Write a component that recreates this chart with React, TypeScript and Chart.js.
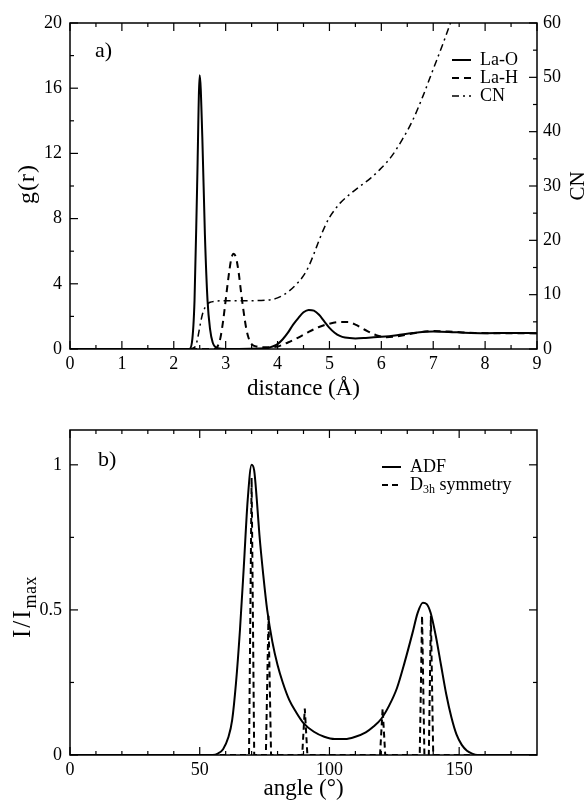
import React, { useEffect, useRef } from 'react';
import { Chart, registerables } from 'chart.js';

Chart.register(...registerables);

const FONT = '"Liberation Serif", "DejaVu Serif", "Times New Roman", serif';

// ---------- Panel a) radial distribution ----------
const DIST_TICKS = [0, 1, 2, 3, 4, 5, 6, 7, 8, 9];
const DIST_MINOR = [0.5, 1.5, 2.5, 3.5, 4.5, 5.5, 6.5, 7.5, 8.5];
const G_TICKS = [0, 4, 8, 12, 16, 20];
const G_MINOR = [2, 6, 10, 14, 18];
const CN_TICKS = [0, 10, 20, 30, 40, 50, 60];
const CN_MINOR = [5, 15, 25, 35, 45, 55];

const LAO_R = [0, 2.3, 2.35, 2.4, 2.45, 2.5, 2.55, 2.6, 2.65, 2.7, 2.75, 2.85, 3.0, 3.8, 3.9, 4.0, 4.1, 4.2, 4.3, 4.4, 4.5, 4.6, 4.7, 4.8, 4.9, 5.0, 5.1, 5.2, 5.3, 5.5, 5.7, 6.0, 6.3, 6.6, 7.0, 7.3, 7.6, 8.0, 8.5, 9.0];
const LAO_G = [0, 0, 0.4, 3.0, 10.0, 16.8, 13.0, 7.0, 3.0, 1.2, 0.4, 0.05, 0, 0.05, 0.15, 0.3, 0.6, 1.0, 1.5, 1.9, 2.25, 2.4, 2.35, 2.1, 1.7, 1.3, 1.0, 0.8, 0.7, 0.65, 0.68, 0.75, 0.85, 0.98, 1.07, 1.05, 1.0, 0.97, 0.98, 0.97];

const LAH_R = [0, 2.8, 2.85, 2.9, 2.95, 3.0, 3.05, 3.1, 3.15, 3.2, 3.25, 3.3, 3.35, 3.4, 3.45, 3.5, 3.6, 3.8, 4.0, 4.2, 4.4, 4.6, 4.8, 5.0, 5.2, 5.35, 5.5, 5.7, 5.9, 6.1, 6.3, 6.6, 7.0, 7.4, 7.8, 8.3, 9.0];
const LAH_G = [0, 0, 0.2, 0.7, 1.7, 3.0, 4.3, 5.4, 5.85, 5.6, 4.7, 3.4, 2.2, 1.2, 0.6, 0.3, 0.15, 0.1, 0.15, 0.4, 0.7, 1.05, 1.35, 1.55, 1.65, 1.65, 1.5, 1.15, 0.85, 0.72, 0.78, 0.95, 1.1, 1.05, 0.98, 0.97, 0.97];

const CN_R = [2.3, 2.4, 2.45, 2.5, 2.55, 2.6, 2.65, 2.7, 2.8, 3.0, 3.5, 3.8, 4.0, 4.2, 4.4, 4.5, 4.6, 4.7, 4.8, 4.9, 5.0, 5.1, 5.2, 5.5, 5.8, 6.0, 6.2, 6.4, 6.6, 6.8, 7.0, 7.2, 7.35, 7.5];
const CN_V = [0, 0.3, 1.5, 4.0, 6.3, 7.6, 8.3, 8.6, 8.8, 8.9, 8.9, 9.0, 9.4, 10.5, 12.3, 13.5, 15.2, 17.5, 20.0, 22.3, 24.2, 25.6, 26.8, 29.3, 31.5, 33.3, 35.5, 38.5, 42.0, 46.5, 51.5, 56.5, 60.5, 64.5];

// ---------- Panel b) angular distribution ----------
const ANG_TICKS = [0, 50, 100, 150];
const ANG_MINOR = [10, 20, 30, 40, 60, 70, 80, 90, 110, 120, 130, 140, 160, 170];
const I_TICKS = [0, 0.5, 1];
const I_MINOR = [0.25, 0.75];

const ADF_A = [0, 50, 55, 57, 59, 61, 62.5, 64, 65.5, 67, 68.5, 70, 71, 72, 73, 74.5, 76, 78, 80, 82, 84.5, 87, 90, 94, 98, 102, 106, 110, 114, 117, 120, 123, 126, 129, 132, 134, 136, 137.5, 139, 141, 143, 145, 147, 149, 151, 153, 155, 157, 160, 180];
const ADF_V = [0, 0, 0, 0.005, 0.02, 0.06, 0.12, 0.25, 0.43, 0.65, 0.88, 1.0, 0.98, 0.88, 0.76, 0.62, 0.5, 0.39, 0.31, 0.25, 0.19, 0.15, 0.11, 0.08, 0.063, 0.055, 0.055, 0.063, 0.078, 0.098, 0.125, 0.17, 0.23, 0.32, 0.42, 0.49, 0.525, 0.52, 0.49, 0.41, 0.31, 0.21, 0.13, 0.07, 0.035, 0.015, 0.005, 0, 0, 0];

const D3H_A = [0, 69, 70, 71, 75.5, 76.5, 77.5, 89.5, 90.5, 91.5, 119.5, 120.5, 121.5, 134.8, 135.7, 136.6, 138.3, 139.1, 140, 180];
const D3H_V = [0, 0, 0.955, 0, 0, 0.48, 0, 0, 0.16, 0, 0, 0.16, 0, 0, 0.48, 0, 0, 0.48, 0, 0];

const pts = (xs: number[], ys: number[]) => xs.map((x, i) => ({ x, y: ys[i] }));

type TickSpec = { axis: string; side: 'bottom' | 'top' | 'left' | 'right'; major: number[]; minor: number[] };
type Part = { t: string; size: number; dy: number; sp?: number };

function drawFrame(chart: any, specs: TickSpec[]) {
  const { ctx, chartArea: a } = chart;
  ctx.save();
  ctx.strokeStyle = '#000';
  ctx.setLineDash([]);
  ctx.lineWidth = 1.2;
  for (const s of specs) {
    const sc = chart.scales[s.axis];
    const draw = (v: number, len: number) => {
      const p = sc.getPixelForValue(v);
      ctx.beginPath();
      if (s.side === 'bottom') { ctx.moveTo(p, a.bottom); ctx.lineTo(p, a.bottom - len); }
      if (s.side === 'top') { ctx.moveTo(p, a.top); ctx.lineTo(p, a.top + len); }
      if (s.side === 'left') { ctx.moveTo(a.left, p); ctx.lineTo(a.left + len, p); }
      if (s.side === 'right') { ctx.moveTo(a.right, p); ctx.lineTo(a.right - len, p); }
      ctx.stroke();
    };
    s.major.forEach((v) => draw(v, 8));
    s.minor.forEach((v) => draw(v, 4));
  }
  ctx.lineWidth = 1.5;
  ctx.strokeRect(a.left, a.top, a.right - a.left, a.bottom - a.top);
  ctx.restore();
}

function partsWidth(ctx: CanvasRenderingContext2D, parts: Part[]) {
  let total = 0;
  for (const p of parts) {
    ctx.font = `${p.size}px ${FONT}`;
    for (const ch of p.t) total += ctx.measureText(ch).width + (p.sp || 0);
  }
  return total;
}

function drawParts(ctx: CanvasRenderingContext2D, parts: Part[], x0: number, y0: number) {
  let cx = x0;
  for (const p of parts) {
    ctx.font = `${p.size}px ${FONT}`;
    for (const ch of p.t) {
      ctx.fillText(ch, cx, y0 + p.dy);
      cx += ctx.measureText(ch).width + (p.sp || 0);
    }
  }
}

function rotText(ctx: CanvasRenderingContext2D, parts: Part[], x: number, cy: number) {
  ctx.save();
  ctx.translate(x, cy);
  ctx.rotate(-Math.PI / 2);
  ctx.fillStyle = '#000';
  ctx.textBaseline = 'alphabetic';
  ctx.textAlign = 'left';
  const total = partsWidth(ctx, parts);
  drawParts(ctx, parts, -total / 2, 0);
  ctx.restore();
}

function legendRow(ctx: CanvasRenderingContext2D, ds: any, x: number, y: number, len: number, textParts: Part[]) {
  ctx.save();
  ctx.strokeStyle = '#000';
  ctx.lineWidth = ds.borderWidth;
  ctx.setLineDash(ds.borderDash || []);
  ctx.beginPath();
  ctx.moveTo(x, y);
  ctx.lineTo(x + len, y);
  ctx.stroke();
  ctx.setLineDash([]);
  ctx.fillStyle = '#000';
  ctx.textBaseline = 'middle';
  ctx.textAlign = 'left';
  drawParts(ctx, textParts, x + len + 9, y);
  ctx.restore();
}

const tickFont = { family: FONT, size: 18 };

function fixedTicks(values: number[]) {
  return (scale: any) => {
    scale.ticks = values.map((v) => ({ value: v }));
  };
}

function axisBase(min: number, max: number, values: number[], padding: number) {
  return {
    type: 'linear' as const,
    min,
    max,
    afterBuildTicks: fixedTicks(values),
    grid: { display: false, drawTicks: false },
    border: { display: false },
    ticks: { font: tickFont, color: '#000', padding, autoSkip: false, maxRotation: 0, callback: (v: any) => String(v) },
  };
}

function topConfig(): any {
  const datasets = [
    { label: 'La-O', data: pts(LAO_R, LAO_G), yAxisID: 'y', borderColor: '#000', borderWidth: 2, borderDash: [] as number[] },
    { label: 'La-H', data: pts(LAH_R, LAH_G), yAxisID: 'y', borderColor: '#000', borderWidth: 2, borderDash: [7, 5] },
    { label: 'CN', data: pts(CN_R, CN_V), yAxisID: 'y2', borderColor: '#000', borderWidth: 1.5, borderDash: [7, 4, 2, 4] },
  ].map((d) => ({ ...d, pointRadius: 0, fill: false, cubicInterpolationMode: 'monotone' }));
  return {
    type: 'line',
    data: { datasets },
    options: {
      animation: false,
      responsive: true,
      maintainAspectRatio: false,
      layout: { padding: { top: 23, left: 0, right: 0, bottom: 0 } },
      plugins: { legend: { display: false }, tooltip: { enabled: false } },
      scales: {
        x: { ...axisBase(0, 9, DIST_TICKS, 4), position: 'bottom', afterFit: (s: any) => { s.height = 51; } },
        y: { ...axisBase(0, 20, G_TICKS, 8), position: 'left', afterFit: (s: any) => { s.width = 70; } },
        y2: { ...axisBase(0, 60, CN_TICKS, 6), position: 'right', afterFit: (s: any) => { s.width = 49; } },
      },
    },
    plugins: [
      {
        id: 'decorTop',
        afterDatasetsDraw(chart: any) {
          drawFrame(chart, [
            { axis: 'x', side: 'bottom', major: DIST_TICKS, minor: DIST_MINOR },
            { axis: 'x', side: 'top', major: DIST_TICKS, minor: DIST_MINOR },
            { axis: 'y', side: 'left', major: G_TICKS, minor: G_MINOR },
            { axis: 'y2', side: 'right', major: CN_TICKS, minor: CN_MINOR },
          ]);
          const { ctx, chartArea: a } = chart;
          const cy = (a.top + a.bottom) / 2;
          rotText(ctx, [{ t: 'g(r)', size: 24, dy: 0, sp: 1 }], 34, cy - 2);
          rotText(ctx, [{ t: 'CN', size: 21, dy: 0 }], 584, cy);
          ctx.save();
          ctx.fillStyle = '#000';
          ctx.font = `23px ${FONT}`;
          ctx.textAlign = 'center';
          ctx.textBaseline = 'alphabetic';
          ctx.fillText('distance (Å)', (a.left + a.right) / 2, 395);
          ctx.textAlign = 'left';
          ctx.font = `22px ${FONT}`;
          ctx.fillText('a)', 95, 57);
          ctx.restore();
          const ds = chart.data.datasets;
          legendRow(ctx, ds[0], 452, 60, 19, [{ t: ds[0].label, size: 18, dy: 0 }]);
          legendRow(ctx, ds[1], 452, 78, 19, [{ t: ds[1].label, size: 18, dy: 0 }]);
          legendRow(ctx, ds[2], 452, 96, 19, [{ t: ds[2].label, size: 18, dy: 0 }]);
        },
      },
    ],
  };
}

function bottomConfig(): any {
  const datasets = [
    { label: 'ADF', data: pts(ADF_A, ADF_V), borderColor: '#000', borderWidth: 2, borderDash: [] as number[], cubicInterpolationMode: 'monotone' },
    { label: 'D3h symmetry', data: pts(D3H_A, D3H_V), borderColor: '#000', borderWidth: 2, borderDash: [6, 4], tension: 0 },
  ].map((d) => ({ ...d, pointRadius: 0, fill: false }));
  return {
    type: 'line',
    data: { datasets },
    options: {
      animation: false,
      responsive: true,
      maintainAspectRatio: false,
      layout: { padding: { top: 30, left: 0, right: 49, bottom: 0 } },
      plugins: { legend: { display: false }, tooltip: { enabled: false } },
      scales: {
        x: { ...axisBase(0, 180, ANG_TICKS, 4), position: 'bottom', afterFit: (s: any) => { s.height = 45; } },
        y: { ...axisBase(0, 1.12, I_TICKS, 8), position: 'left', afterFit: (s: any) => { s.width = 70; } },
      },
    },
    plugins: [
      {
        id: 'decorBottom',
        afterDatasetsDraw(chart: any) {
          drawFrame(chart, [
            { axis: 'x', side: 'bottom', major: ANG_TICKS, minor: ANG_MINOR },
            { axis: 'x', side: 'top', major: ANG_TICKS, minor: ANG_MINOR },
            { axis: 'y', side: 'left', major: I_TICKS, minor: I_MINOR },
            { axis: 'y', side: 'right', major: I_TICKS, minor: I_MINOR },
          ]);
          const { ctx, chartArea: a } = chart;
          rotText(ctx, [{ t: 'I/I', size: 25, dy: 0, sp: 2 }, { t: 'max', size: 18, dy: 6, sp: 0.5 }], 30, 207);
          ctx.save();
          ctx.fillStyle = '#000';
          ctx.font = `23px ${FONT}`;
          ctx.textAlign = 'center';
          ctx.textBaseline = 'alphabetic';
          ctx.fillText('angle (°)', (a.left + a.right) / 2, 395);
          ctx.textAlign = 'left';
          ctx.font = `22px ${FONT}`;
          ctx.fillText('b)', 98, 66);
          ctx.restore();
          const ds = chart.data.datasets;
          legendRow(ctx, ds[0], 382, 67, 19, [{ t: ds[0].label, size: 18, dy: 0 }]);
          legendRow(ctx, ds[1], 382, 85, 19, [
            { t: 'D', size: 18, dy: 0 },
            { t: '3h', size: 12, dy: 5 },
            { t: ' symmetry', size: 18, dy: 0 },
          ]);
        },
      },
    ],
  };
}

export default function App() {
  const topRef = useRef<HTMLCanvasElement>(null);
  const botRef = useRef<HTMLCanvasElement>(null);
  useEffect(() => {
    const c1 = new Chart(topRef.current as HTMLCanvasElement, topConfig());
    const c2 = new Chart(botRef.current as HTMLCanvasElement, bottomConfig());
    return () => {
      c1.destroy();
      c2.destroy();
    };
  }, []);
  return (
    <div style={{ position: 'absolute', left: 0, top: 0, width: 586, height: 800, background: '#fff' }}>
      <div style={{ position: 'absolute', left: 0, top: 0, width: 586, height: 400 }}>
        <canvas ref={topRef} />
      </div>
      <div style={{ position: 'absolute', left: 0, top: 400, width: 586, height: 400 }}>
        <canvas ref={botRef} />
      </div>
    </div>
  );
}
